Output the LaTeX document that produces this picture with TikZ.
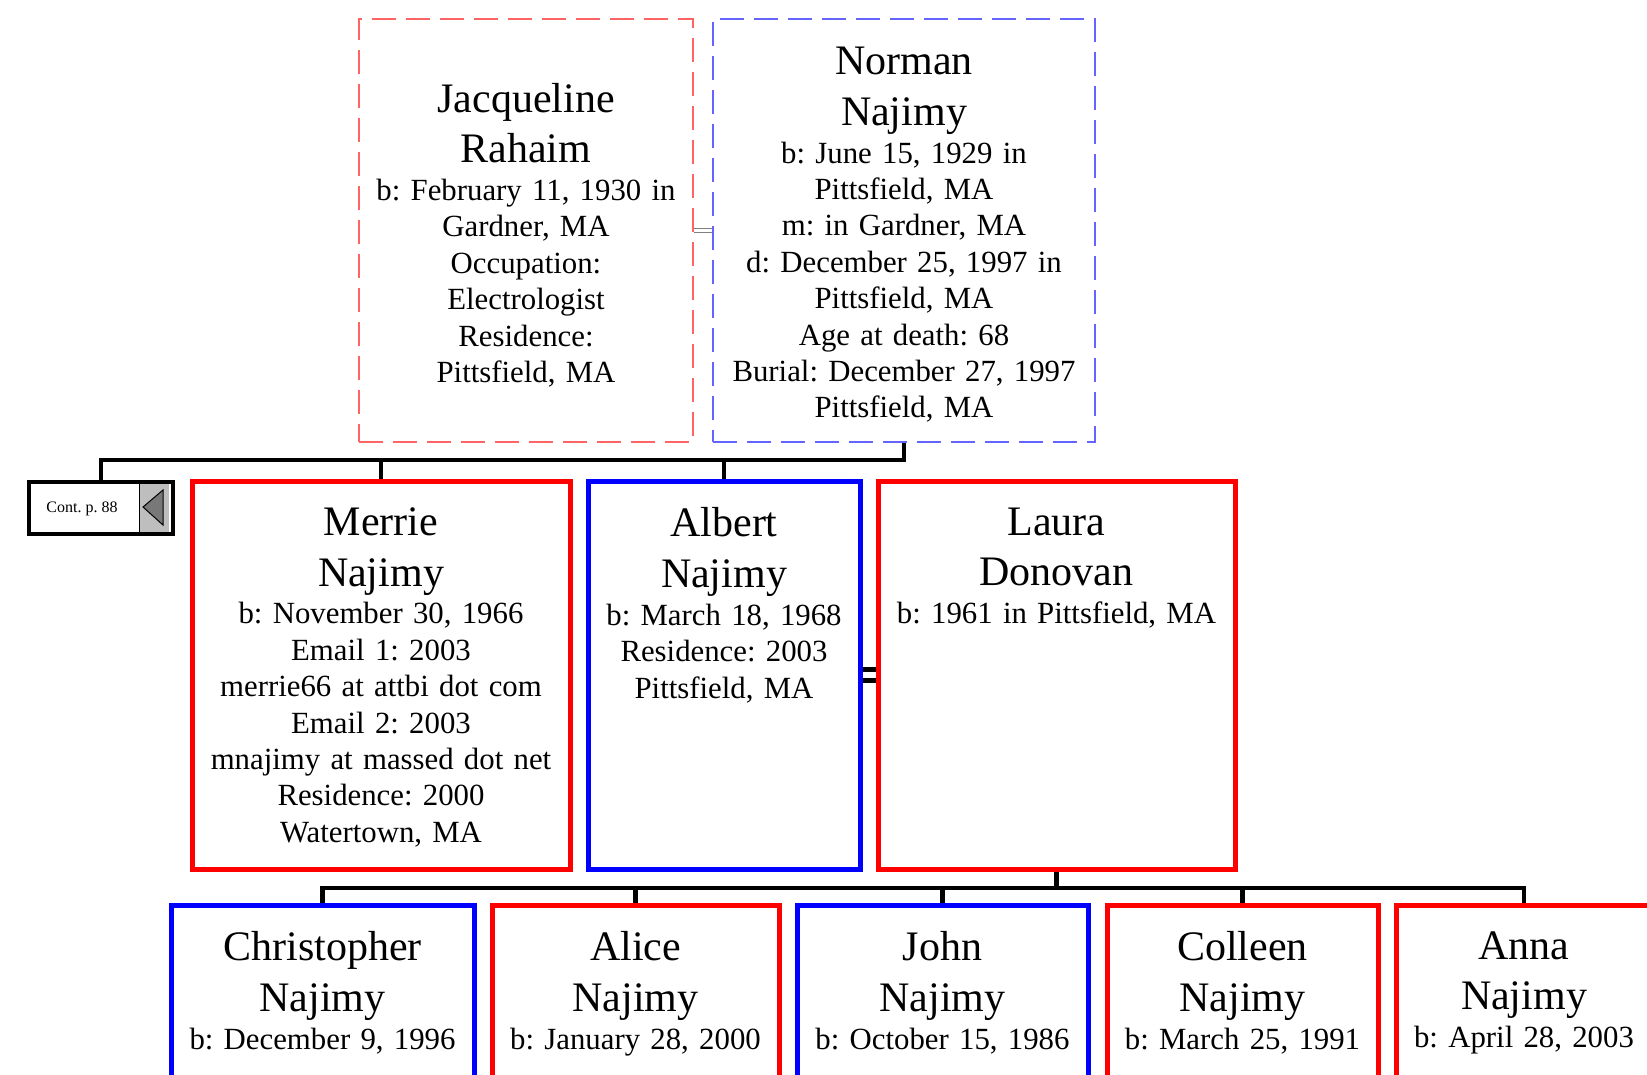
\documentclass[tikz,border=0pt]{standalone}
\usepackage{fontspec}
\setmainfont{Liberation Serif}
\frenchspacing
\definecolor{pred}{RGB}{255,0,0}
\definecolor{pblue}{RGB}{0,0,255}
\definecolor{lred}{RGB}{255,100,100}
\definecolor{lblue}{RGB}{100,100,255}
\definecolor{contgray}{RGB}{190,190,190}
\definecolor{trigray}{RGB}{120,120,120}
\newcommand\NameFont{\fontsize{42}{50.5}\selectfont}
\newcommand\DetFont{\fontsize{30.8}{36.4}\selectfont}
\tikzset{
  conn/.style={line width=4.5pt, draw=black},
  pbox/.style={draw, line width=5pt, inner sep=0pt, fill=white},
  topbox/.style={draw, line width=1.5pt, dash pattern=on 24pt off 10pt, inner sep=0pt},
  txt/.style={align=center, inner sep=0pt, font=\DetFont},
  marr/.style={line width=4.5pt, draw=black},
  marrthin/.style={line width=1.2pt, draw=gray},
}
\begin{document}
\begin{tikzpicture}[x=1pt,y=-1pt]
\useasboundingbox (0,0) rectangle (1647,1074);
\clip (0,0) rectangle (1647,1074);

% ---- top couple
\node[topbox, draw=lred, minimum width=334pt, minimum height=423pt] (jac) at (526,230.5) {};
\node[topbox, draw=lblue, minimum width=382pt, minimum height=423pt] (nor) at (904,230.5) {};
\node[txt, text width=326pt] (jacT) at ([yshift=-4.5pt]jac.center) {{\NameFont Jacqueline\\Rahaim\par}\vspace{1.5pt}b: February 11, 1930 in\\Gardner, MA\\Occupation:\\Electrologist\\Residence:\\Pittsfield, MA};
\node[txt, text width=374pt] (norT) at ([yshift=-4.5pt]nor.center) {{\NameFont Norman\\Najimy\par}\vspace{1.5pt}b: June 15, 1929 in\\Pittsfield, MA\\m: in Gardner, MA\\d: December 25, 1997 in\\Pittsfield, MA\\Age at death: 68\\Burial: December 27, 1997\\Pittsfield, MA};
\draw[marrthin] ([yshift=2pt]jac.east) -- ([yshift=2pt]nor.west);
\draw[marrthin] ([yshift=-2pt]jac.east) -- ([yshift=-2pt]nor.west);

% ---- middle row
\node[pbox, draw=pred, minimum width=378pt, minimum height=388pt] (mer) at (381,675) {};
\node[pbox, draw=pblue, minimum width=272pt, minimum height=388pt] (alb) at (724,675) {};
\node[pbox, draw=pred, minimum width=357pt, minimum height=388pt] (lau) at (1056.5,675) {};
\node[txt, text width=368pt, anchor=north] (merT) at ([yshift=-29pt]mer.north) {{\NameFont Merrie\\Najimy\par}\vspace{1.5pt}b: November 30, 1966\\Email 1: 2003\\merrie66 at attbi dot com\\Email 2: 2003\\mnajimy at massed dot net\\Residence: 2000\\Watertown, MA};
\node[txt, text width=264pt, anchor=north] (albT) at ([yshift=-29pt]alb.north) {{\NameFont Albert\\Najimy\par}\vspace{1.5pt}b: March 18, 1968\\Residence: 2003\\Pittsfield, MA};
\node[txt, text width=348pt, anchor=north] (lauT) at ([yshift=-29pt]lau.north) {{\NameFont Laura\\Donovan\par}\vspace{1.5pt}b: 1961 in Pittsfield, MA};
\draw[marr] ([yshift=5.5pt]alb.east) -- ([yshift=5.5pt]lau.west);
\draw[marr] ([yshift=-5.5pt]alb.east) -- ([yshift=-5.5pt]lau.west);

% ---- continuation box
\node[draw, line width=4pt, minimum width=144pt, minimum height=52pt, inner sep=0pt, fill=white] (cont) at (101,508) {};
\fill[contgray] (139,484) rectangle (169,532);
\draw[line width=1pt] (139,484) -- (139,532);
\draw[fill=trigray, line width=1pt] (143,507) -- (163,490) -- (163,525) -- cycle;
\node[font=\fontsize{16}{19}\selectfont, inner sep=0pt] (contT) at (82,509) {Cont. p. 88};

% ---- top family connector
\coordinate (busA) at (102,460);
\draw[conn] (nor.south) -- (nor.south |- busA) -| (cont.north);
\draw[conn] (mer.north) -- (mer.north |- busA);
\draw[conn] (alb.north) -- (alb.north |- busA);

% ---- children
\node[pbox, draw=pblue, minimum width=303pt, minimum height=190pt] (chr) at (322.5,1000) {};
\node[pbox, draw=pred, minimum width=287pt, minimum height=190pt] (ali) at (635.5,1000) {};
\node[pbox, draw=pblue, minimum width=291pt, minimum height=190pt] (joh) at (942.5,1000) {};
\node[pbox, draw=pred, minimum width=271pt, minimum height=190pt] (col) at (1242.5,1000) {};
\node[pbox, draw=pred, minimum width=256pt, minimum height=190pt] (ann) at (1524,1000) {};
\node[txt, text width=295pt, anchor=north] (chrT) at ([yshift=-29pt]chr.north) {{\NameFont Christopher\\Najimy\par}\vspace{1.5pt}b: December 9, 1996};
\node[txt, text width=279pt, anchor=north] (aliT) at ([yshift=-29pt]ali.north) {{\NameFont Alice\\Najimy\par}\vspace{1.5pt}b: January 28, 2000};
\node[txt, text width=283pt, anchor=north] (johT) at ([yshift=-29pt]joh.north) {{\NameFont John\\Najimy\par}\vspace{1.5pt}b: October 15, 1986};
\node[txt, text width=263pt, anchor=north] (colT) at ([yshift=-29pt]col.north) {{\NameFont Colleen\\Najimy\par}\vspace{1.5pt}b: March 25, 1991};
\node[txt, text width=248pt, anchor=north] (annT) at ([yshift=-29pt]ann.north) {{\NameFont Anna\\Najimy\par}\vspace{1.5pt}b: April 28, 2003};

\coordinate (busB) at (322,888);
\draw[conn] (lau.south) -- (lau.south |- busB);
\draw[conn] (chr.north) -- (chr.north |- busB) -- (ann.north |- busB) -- (ann.north);
\draw[conn] (ali.north) -- (ali.north |- busB);
\draw[conn] (joh.north) -- (joh.north |- busB);
\draw[conn] (col.north) -- (col.north |- busB);
\end{tikzpicture}
\end{document}
